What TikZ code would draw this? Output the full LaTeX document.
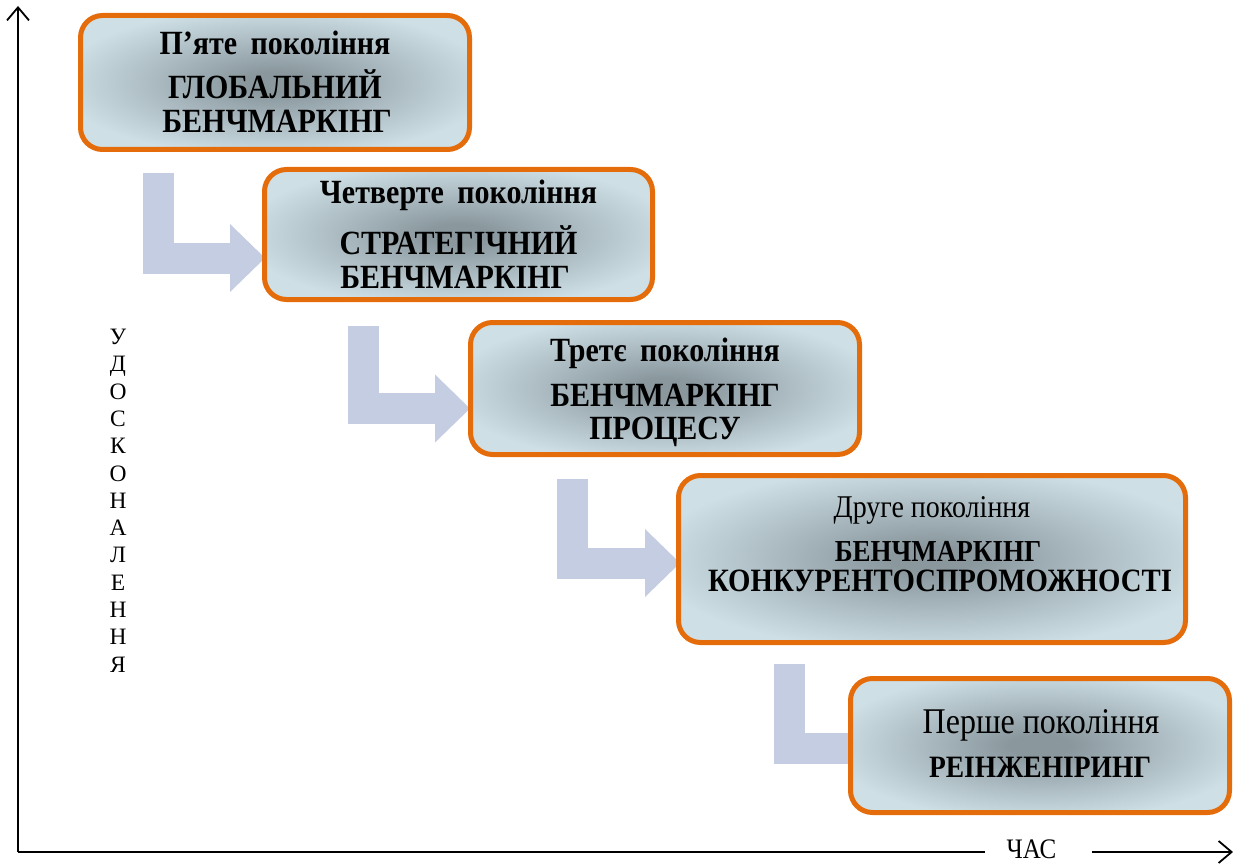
\documentclass[tikz,border=0pt]{standalone}
\usepackage{fontspec}
\setmainfont{Liberation Serif}
\usetikzlibrary{arrows.meta,calc}
\definecolor{orng}{RGB}{228,108,10}
\definecolor{arrowc}{RGB}{196,205,225}
\definecolor{bxdark}{RGB}{138,152,158}
\definecolor{bxlight}{RGB}{206,224,230}
\definecolor{bxedge}{RGB}{172,192,200}
\pgfdeclareradialshading{boxshade}{\pgfpoint{0bp}{0bp}}{color(0bp)=(bxdark); color(4bp)=(bxdark); color(28bp)=(bxlight); color(43bp)=(bxlight); color(50bp)=(bxedge)}
\pgfdeclarelayer{bg}
\pgfsetlayers{bg,main}
\newcommand{\vstretch}[1]{\scalebox{1}[1.13]{#1}}
\newcommand{\wsp}{\hspace{0.45em}}
\begin{document}
\begin{tikzpicture}[x=1pt,y=-1pt,
  genbox/.style={draw=orng,line width=5pt,rounded corners=22pt,shade,shading=boxshade,inner sep=0pt},
  bendarrow/.style={draw=arrowc,line width=31pt,line join=miter,-{Triangle[length=35pt,width=68pt,line width=0pt]}},
  axisline/.style={draw=black,line width=1.8pt},
  axtip/.style={-{Straight Barb[length=13pt,width=22pt]}},
  bigb/.style={anchor=base,inner sep=0pt,font=\fontsize{30}{32}\selectfont\bfseries},
  bigr/.style={anchor=base,inner sep=0pt,font=\fontsize{32}{34}\selectfont},
  midb/.style={anchor=base,inner sep=0pt,font=\fontsize{27}{29}\selectfont\bfseries},
  midr/.style={anchor=base,inner sep=0pt,font=\fontsize{28}{30}\selectfont},
  smallb/.style={anchor=base,inner sep=0pt,font=\fontsize{27.5}{29}\selectfont\bfseries},
  axlabel/.style={inner sep=0pt,font=\fontsize{23.5}{27.3}\selectfont}
]
\useasboundingbox (0,0) rectangle (1235,864);

% boxes
\node[genbox,minimum width=389pt,minimum height=134pt] (b1) at (275,82.5) {};
\node[genbox,minimum width=388pt,minimum height=130pt] (b2) at (458.5,234.5) {};
\node[genbox,minimum width=389pt,minimum height=132pt] (b3) at (665,388.5) {};
\node[genbox,minimum width=507pt,minimum height=167pt] (b4) at (932,559) {};
\node[genbox,minimum width=379pt,minimum height=134pt] (b5) at (1040,745.5) {};

% texts
\node[bigb] (t1a) at (275,55) {\vstretch{П’яте\wsp покоління}};
\node[bigb] (t1b) at (275,99) {\vstretch{ГЛОБАЛЬНИЙ}};
\node[bigb] (t1c) at (277,133) {\vstretch{БЕНЧМАРКІНГ}};

\node[bigb] (t2a) at (458.5,204) {\vstretch{Четверте\wsp покоління}};
\node[bigb] (t2b) at (458.5,254) {\vstretch{СТРАТЕГІЧНИЙ}};
\node[bigb] (t2c) at (455,288) {\vstretch{БЕНЧМАРКІНГ}};

\node[bigb] (t3a) at (665,361) {\vstretch{Третє\wsp покоління}};
\node[bigb] (t3b) at (665,406) {\vstretch{БЕНЧМАРКІНГ}};
\node[bigb] (t3c) at (665,439) {\vstretch{ПРОЦЕСУ}};

\node[midr] (t4a) at (932,517) {\vstretch{Друге покоління}};
\node[midb] (t4b) at (938,561) {\vstretch{БЕНЧМАРКІНГ}};
\node[midb,font=\fontsize{28.8}{30}\selectfont\bfseries] (t4c) at (940,591) {\vstretch{КОНКУРЕНТОСПРОМОЖНОСТІ}};

\node[bigr] (t5a) at (1041,733) {\vstretch{Перше покоління}};
\node[smallb] (t5b) at (1040,777) {\vstretch{РЕІНЖЕНІРИНГ}};

% bent arrows (behind boxes)
\begin{pgfonlayer}{bg}
\coordinate (s1) at ($(b1.south west)+(80,21)$);
\coordinate (e1) at ($(b2.west)+(3,23.5)$);
\coordinate (s2) at ($(b2.south west)+(101.5,24)$);
\coordinate (e2) at ($(b3.west)+(2,20)$);
\coordinate (s3) at ($(b3.south west)+(104,22)$);
\coordinate (e3) at ($(b4.west)+(4,4)$);
\coordinate (s4) at ($(b4.south west)+(113,19)$);
\coordinate (e4) at ($(b5.west)+(42,3)$);
\draw[bendarrow] (s1) |- (e1);
\draw[bendarrow] (s2) |- (e2);
\draw[bendarrow] (s3) |- (e3);
\draw[bendarrow] (s4) |- (e4);
\end{pgfonlayer}

% axes
\coordinate (O) at (18,852);
\coordinate (ytop) at (18,6);
\coordinate (xend) at (1233,852);
\node[anchor=base,inner sep=0pt,font=\fontsize{25}{27}\selectfont] (xlab) at (1031.5,858) {\vstretch{ЧАС}};
\draw[axisline,axtip] (O) -- (ytop);
\draw[axisline] (O) -- ([xshift=-21pt]O -| xlab.west);
\draw[axisline,axtip] ([xshift=35pt]O -| xlab.east) -- (xend);

\node[axlabel,align=center,anchor=north] (ylab) at (118,329) {У\\Д\\О\\С\\К\\О\\Н\\А\\Л\\Е\\Н\\Н\\Я};
\end{tikzpicture}
\end{document}
